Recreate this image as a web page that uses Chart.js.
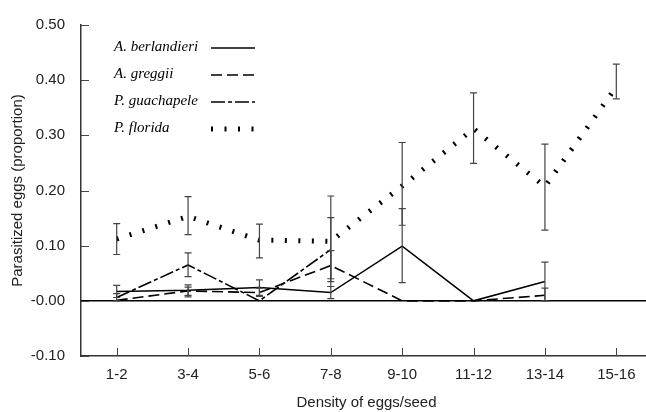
<!DOCTYPE html>
<html>
<head>
<meta charset="utf-8">
<script src="https://cdn.jsdelivr.net/npm/chart.js@4.4.1/dist/chart.umd.min.js"></script>
<style>
  html, body { margin: 0; padding: 0; background: #fff; overflow: hidden; }
  #wrap { width: 652px; height: 412px; }
</style>
</head>
<body>
<div id="wrap"><canvas id="chart" width="652" height="412"></canvas></div>
<script>
// categories and tick labels
const categories = ["1-2", "3-4", "5-6", "7-8", "9-10", "11-12", "13-14", "15-16"];
const yTickLabels = ["-0.10", "-0.00", "0.10", "0.20", "0.30", "0.40", "0.50"];

// mean proportion of parasitized eggs
const berlandieri = [0.017, 0.019, 0.024, 0.015, 0.099, 0.000, 0.035, null];
const greggii = [0.001, 0.018, 0.015, 0.064, 0.000, 0.000, 0.010, null];
const guachapele = [0.006, 0.065, 0.000, 0.093, null, null, null, null];
const florida = [0.112, 0.153, 0.110, 0.108, 0.208, 0.312, 0.207, 0.388];

// error bar ends (low / high)
const berlandieriLow = [0.006, 0.010, 0.010, 0.004, 0.033, null, 0.000, null];
const berlandieriHigh = [0.028, 0.029, 0.038, 0.026, 0.167, null, 0.070, null];
const greggiiLow = [null, 0.007, 0.008, 0.040, null, null, 0.000, null];
const greggiiHigh = [null, 0.025, 0.023, 0.091, null, null, 0.023, null];
const guachapeleLow = [0.000, 0.044, null, 0.035, null, null, null, null];
const guachapeleHigh = [0.013, 0.087, null, 0.151, null, null, null, null];
const floridaLow = [0.084, 0.120, 0.078, 0.026, 0.137, 0.249, 0.128, 0.366];
const floridaHigh = [0.140, 0.189, 0.139, 0.190, 0.287, 0.377, 0.284, 0.429];

const series = [
  { label: "A. berlandieri", data: berlandieri, low: berlandieriLow, high: berlandieriHigh, width: 1.5, dash: [] },
  { label: "A. greggii", data: greggii, low: greggiiLow, high: greggiiHigh, width: 1.6, dash: [11, 5] },
  { label: "P. guachapele", data: guachapele, low: guachapeleLow, high: guachapeleHigh, width: 1.6, dash: [14, 3, 4, 3] },
  { label: "P. florida", data: florida, low: floridaLow, high: floridaHigh, width: 5, dash: [2, 11.5] }
];

const sansFont = "'Liberation Sans', Arial, sans-serif";

// zero line, error bars, inward ticks and the legend
const extras = {
  id: "extras",
  beforeDatasetsDraw(chart) {
    const { ctx, chartArea, scales: { y } } = chart;
    const y0 = y.getPixelForValue(0);
    ctx.save();
    ctx.strokeStyle = "#000";
    ctx.lineWidth = 1.5;
    ctx.beginPath();
    ctx.moveTo(chartArea.left, y0);
    ctx.lineTo(chartArea.right, y0);
    ctx.stroke();
    ctx.restore();
  },
  afterDatasetsDraw(chart) {
    const { ctx, scales: { x, y } } = chart;
    ctx.save();
    ctx.strokeStyle = "#444";
    ctx.lineWidth = 1.2;
    series.forEach(s => {
      s.low.forEach((lo, i) => {
        const hi = s.high[i];
        if (lo === null || hi === null) return;
        const px = x.getPixelForValue(i);
        const yl = y.getPixelForValue(lo);
        const yh = y.getPixelForValue(hi);
        ctx.beginPath();
        ctx.moveTo(px, yl); ctx.lineTo(px, yh);
        ctx.moveTo(px - 3.5, yl); ctx.lineTo(px + 3.5, yl);
        ctx.moveTo(px - 3.5, yh); ctx.lineTo(px + 3.5, yh);
        ctx.stroke();
      });
    });
    ctx.restore();
  },
  afterDraw(chart) {
    const { ctx, chartArea, scales: { x, y } } = chart;
    ctx.save();
    ctx.strokeStyle = "#444";
    ctx.lineWidth = 1;
    y.ticks.forEach((t, i) => {
      const py = Math.round(y.getPixelForTick(i)) + 0.5;
      ctx.beginPath();
      ctx.moveTo(chartArea.left, py);
      ctx.lineTo(chartArea.left + 8, py);
      ctx.stroke();
    });
    categories.forEach((c, i) => {
      const px = Math.round(x.getPixelForValue(i)) + 0.5;
      ctx.beginPath();
      ctx.moveTo(px, chartArea.bottom);
      ctx.lineTo(px, chartArea.bottom - 8);
      ctx.stroke();
    });

    // legend: italic names followed by the line sample
    const rowY = [47, 74, 101, 128];
    ctx.font = "italic 15px 'Liberation Serif', 'Times New Roman', serif";
    ctx.fillStyle = "#000";
    ctx.textBaseline = "middle";
    series.forEach((s, i) => {
      ctx.fillText(s.label, 114, rowY[i]);
      ctx.strokeStyle = "#000";
      ctx.lineWidth = s.width;
      ctx.lineCap = "butt";
      ctx.setLineDash(s.dash);
      ctx.beginPath();
      ctx.moveTo(211, rowY[i] + 1);
      ctx.lineTo(255, rowY[i] + 1);
      ctx.stroke();
      ctx.setLineDash([]);
    });
    ctx.restore();
  }
};

new Chart(document.getElementById("chart"), {
  type: "line",
  data: {
    labels: categories,
    datasets: series.map(s => ({
      label: s.label,
      data: s.data,
      borderColor: "#000",
      borderWidth: s.width,
      borderDash: s.dash,
      borderCapStyle: "butt",
      pointRadius: 0,
      tension: 0,
      fill: false,
      spanGaps: false
    }))
  },
  options: {
    responsive: false,
    animation: false,
    devicePixelRatio: 1,
    layout: { padding: { top: 16, right: 0, left: 0, bottom: 0 } },
    plugins: {
      legend: { display: false },
      tooltip: { enabled: false }
    },
    scales: {
      x: {
        offset: true,
        grid: { display: false, drawTicks: false },
        border: { display: true, color: "#333", width: 1.5 },
        ticks: { color: "#222", padding: 10, font: { family: sansFont, size: 15 } },
        title: {
          display: true,
          text: "Density of eggs/seed",
          color: "#222",
          padding: 0,
          font: { family: sansFont, size: 15 }
        },
        afterFit(scale) { scale.height = 56; }
      },
      y: {
        min: -0.1,
        max: 0.5,
        grid: { display: false, drawTicks: false },
        border: { display: true, color: "#333", width: 1.5 },
        ticks: {
          stepSize: 0.1,
          color: "#222",
          padding: 16,
          font: { family: sansFont, size: 15 },
          callback: (v, i) => yTickLabels[i]
        },
        title: {
          display: true,
          text: "Parasitized eggs (proportion)",
          color: "#222",
          padding: 9,
          font: { family: sansFont, size: 15 }
        },
        afterFit(scale) { scale.width = 81; }
      }
    }
  },
  plugins: [extras]
});
</script>
</body>
</html>
